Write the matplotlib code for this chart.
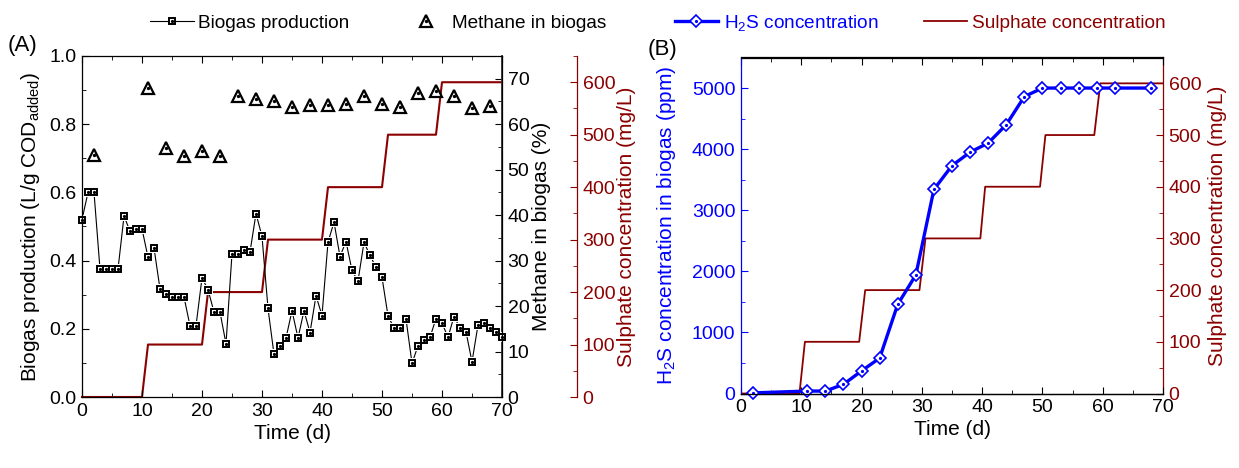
import matplotlib
matplotlib.use('Agg')
import matplotlib.pyplot as plt
from matplotlib.ticker import MultipleLocator

plt.rcParams['font.family'] = ['Liberation Sans', 'DejaVu Sans']
plt.rcParams['mathtext.default'] = 'regular'
plt.rcParams['axes.linewidth'] = 0.9

# Datos
dias_biogas = list(range(0, 71))
biogas = [0.52, 0.60, 0.60, 0.375, 0.375, 0.375, 0.375, 0.53, 0.487, 0.493,
          0.493, 0.41, 0.437, 0.317, 0.302, 0.293, 0.293, 0.293, 0.209, 0.209,
          0.349, 0.315, 0.249, 0.249, 0.156, 0.42, 0.42, 0.432, 0.425, 0.538,
          0.471, 0.26, 0.125, 0.151, 0.173, 0.253, 0.173, 0.253, 0.189, 0.297,
          0.239, 0.454, 0.513, 0.412, 0.456, 0.371, 0.34, 0.454, 0.415, 0.381,
          0.351, 0.238, 0.202, 0.202, 0.229, 0.099, 0.15, 0.168, 0.175, 0.23,
          0.217, 0.175, 0.236, 0.202, 0.191, 0.103, 0.211, 0.217, 0.202, 0.192,
          0.177]

dias_metano = [2, 11, 14, 17, 20, 23, 26, 29, 32, 35, 38, 41, 44, 47, 50, 53,
               56, 59, 62, 65, 68]
metano = [53.3, 68.0, 54.8, 53.1, 54.2, 53.1, 66.1, 65.5, 65.1, 63.7, 64.3,
          64.2, 64.4, 66.1, 64.4, 63.8, 66.8, 67.2, 66.1, 63.5, 63.9]

dias_sulfato_a = [0, 10, 11, 20, 21, 30, 31, 40, 41, 50, 51, 59, 60, 70]
sulfato_a = [0, 0, 100, 100, 200, 200, 300, 300, 400, 400, 500, 500, 600, 600]

dias_h2s = [2, 11, 14, 17, 20, 23, 26, 29, 32, 35, 38, 41, 44, 47, 50, 53,
            56, 59, 62, 68]
h2s = [10, 40, 40, 150, 370, 580, 1460, 1940, 3340, 3730, 3950, 4100, 4400,
       4860, 5000, 5000, 5000, 5000, 5000, 5000]

dias_sulfato_b = [0, 9.7, 10.6, 19.6, 20.6, 29.6, 30.6, 39.7, 40.5, 49.6,
                  50.5, 58.6, 59.6, 70]
sulfato_b = [0, 0, 100, 100, 200, 200, 300, 300, 400, 400, 500, 500, 600, 600]

rojo = '#8b0000'
azul = '#0000ff'
fs_tick = 14
fs_lab = 15
fs_leg = 13.7

fig = plt.figure(figsize=(12.39, 4.68), dpi=100)

# ---------- (A) ----------
axA = fig.add_axes([82 / 1239, 1 - 397 / 468, 420 / 1239, 341 / 468])
sulA = axA.twinx()
metA = axA.twinx()
sulA.set_zorder(1)
metA.set_zorder(2)
axA.set_zorder(3)
axA.patch.set_visible(False)
metA.patch.set_visible(False)

sulA.spines['right'].set_position(('axes', 1 + 75 / 420))
sulA.spines['right'].set_color(rojo)
for s in ['left', 'top', 'bottom']:
    sulA.spines[s].set_visible(False)
    metA.spines[s].set_visible(False)
metA.spines['right'].set_color('#333333')
metA.spines['right'].set_linewidth(1.3)

sulA.plot(dias_sulfato_a, sulfato_a, color=rojo, lw=1.5, clip_on=False)

metA.plot(dias_metano, metano, ls='none', marker='^', ms=8.5, mfc='white',
          mec='black', mew=1.6, clip_on=False)
metA.plot(dias_metano, metano, ls='none', marker='o', ms=1.4, color='black')

axA.plot(dias_biogas, biogas, color='black', lw=0.8, clip_on=False)
axA.plot(dias_biogas, biogas, ls='none', marker='s', ms=7.2, mfc='white',
         mec='white', mew=0, clip_on=False)
axA.plot(dias_biogas, biogas, ls='none', marker='s', ms=4.0, mfc='white',
         mec='black', mew=1.4, clip_on=False)
axA.plot(dias_biogas, biogas, ls='none', marker='o', ms=1.3, color='black',
         clip_on=False)

axA.set_xlim(0, 70)
axA.set_ylim(0, 1.0)
metA.set_ylim(0, 75)
sulA.set_ylim(0, 650)
axA.xaxis.set_major_locator(MultipleLocator(10))
axA.xaxis.set_minor_locator(MultipleLocator(5))
axA.yaxis.set_major_locator(MultipleLocator(0.2))
axA.yaxis.set_minor_locator(MultipleLocator(0.1))
axA.yaxis.set_major_formatter(plt.FormatStrFormatter('%.1f'))
metA.yaxis.set_major_locator(MultipleLocator(10))
metA.yaxis.set_minor_locator(MultipleLocator(5))
sulA.yaxis.set_major_locator(MultipleLocator(100))
sulA.yaxis.set_minor_locator(MultipleLocator(50))

for ax in [axA, metA, sulA]:
    ax.tick_params(which='both', direction='in', labelsize=fs_tick, pad=4)
    ax.tick_params(which='major', length=5)
    ax.tick_params(which='minor', length=3)
axA.tick_params(which='both', top=True, right=False)
sulA.tick_params(which='both', colors=rojo)

axA.set_xlabel('Time (d)', fontsize=fs_lab, labelpad=3)
axA.set_ylabel('Biogas production (L/g COD$_{added}$)', fontsize=fs_lab,
               labelpad=5)
metA.set_ylabel('Methane in biogas (%)', fontsize=fs_lab, labelpad=2)
sulA.set_ylabel('Sulphate concentration (mg/L)', fontsize=fs_lab,
                color=rojo, labelpad=1)

fig.text(8 / 1239, 1 - 46 / 468, '(A)', fontsize=16, va='center')

# ---------- (B) ----------
axB = fig.add_axes([741 / 1239, 1 - 393.5 / 468, 422 / 1239, 336 / 468])
sulB = axB.twinx()
sulB.set_zorder(1)
axB.set_zorder(2)
axB.patch.set_visible(False)
sulB.spines['right'].set_color(rojo)
sulB.spines['left'].set_visible(False)
axB.spines['left'].set_color(azul)
axB.spines['right'].set_visible(False)

sulB.plot(dias_sulfato_b, sulfato_b, color=rojo, lw=1.3)

axB.plot(dias_h2s, h2s, color=azul, lw=2.4, marker='D', ms=6, mfc='white',
         mec=azul, mew=1.2, clip_on=False)
axB.plot(dias_h2s, h2s, ls='none', marker='o', ms=1.3, color=azul,
         clip_on=False)

axB.set_xlim(0, 70)
axB.set_ylim(0, 5500)
sulB.set_ylim(0, 650)
axB.xaxis.set_major_locator(MultipleLocator(10))
axB.xaxis.set_minor_locator(MultipleLocator(5))
axB.yaxis.set_major_locator(MultipleLocator(1000))
axB.yaxis.set_minor_locator(MultipleLocator(500))
sulB.yaxis.set_major_locator(MultipleLocator(100))
sulB.yaxis.set_minor_locator(MultipleLocator(50))

for ax in [axB, sulB]:
    ax.tick_params(which='both', direction='in', labelsize=fs_tick, pad=4)
    ax.tick_params(which='major', length=5)
    ax.tick_params(which='minor', length=3)
axB.tick_params(which='both', top=True, right=False)
axB.tick_params(axis='y', which='both', colors=azul)
sulB.tick_params(which='both', colors=rojo)

axB.set_xlabel('Time (d)', fontsize=fs_lab, labelpad=3)
axB.set_ylabel('H$_2$S concentration in biogas (ppm)', fontsize=fs_lab,
               color=azul, labelpad=10)
sulB.set_ylabel('Sulphate concentration (mg/L)', fontsize=fs_lab,
                color=rojo, labelpad=5)

fig.text(648 / 1239, 1 - 50 / 468, '(B)', fontsize=16, va='center')

# ---------- leyendas ----------
h_bio = axA.plot([], [], color='black', lw=0.8, marker='s', ms=4.0,
                 mfc='white', mec='black', mew=1.4)[0]
h_bio_p = axA.plot([], [], ls='none', marker='o', ms=1.3, color='black')[0]
h_met = axA.plot([], [], ls='none', marker='^', ms=8.5, mfc='white',
                 mec='black', mew=1.6)[0]
h_met_p = axA.plot([], [], ls='none', marker='o', ms=1.4, color='black')[0]
h_h2s = axB.plot([], [], color=azul, lw=2.4, marker='D', ms=6, mfc='white',
                 mec=azul, mew=1.2)[0]
h_h2s_p = axB.plot([], [], ls='none', marker='o', ms=1.3, color=azul)[0]
h_sul = axB.plot([], [], color=rojo, lw=1.3)[0]

leg1 = fig.legend([(h_bio, h_bio_p), (h_met, h_met_p)],
                  ['Biogas production', 'Methane in biogas'],
                  loc='center left', bbox_to_anchor=(150 / 1239, 1 - 23 / 468),
                  ncol=2, frameon=False, fontsize=fs_leg, borderpad=0,
                  borderaxespad=0, handlelength=2.3, handletextpad=0.2,
                  columnspacing=2.9)
leg2 = fig.legend([(h_h2s, h_h2s_p), h_sul],
                  ['H$_2$S concentration', 'Sulphate concentration'],
                  loc='center left', bbox_to_anchor=(675 / 1239, 1 - 23 / 468),
                  ncol=2, frameon=False, fontsize=fs_leg, borderpad=0,
                  borderaxespad=0, handlelength=2.25, handletextpad=0.3,
                  columnspacing=2.4)
leg2.get_texts()[0].set_color(azul)
leg2.get_texts()[1].set_color(rojo)

fig.savefig('out.png', dpi=100, facecolor='white')
